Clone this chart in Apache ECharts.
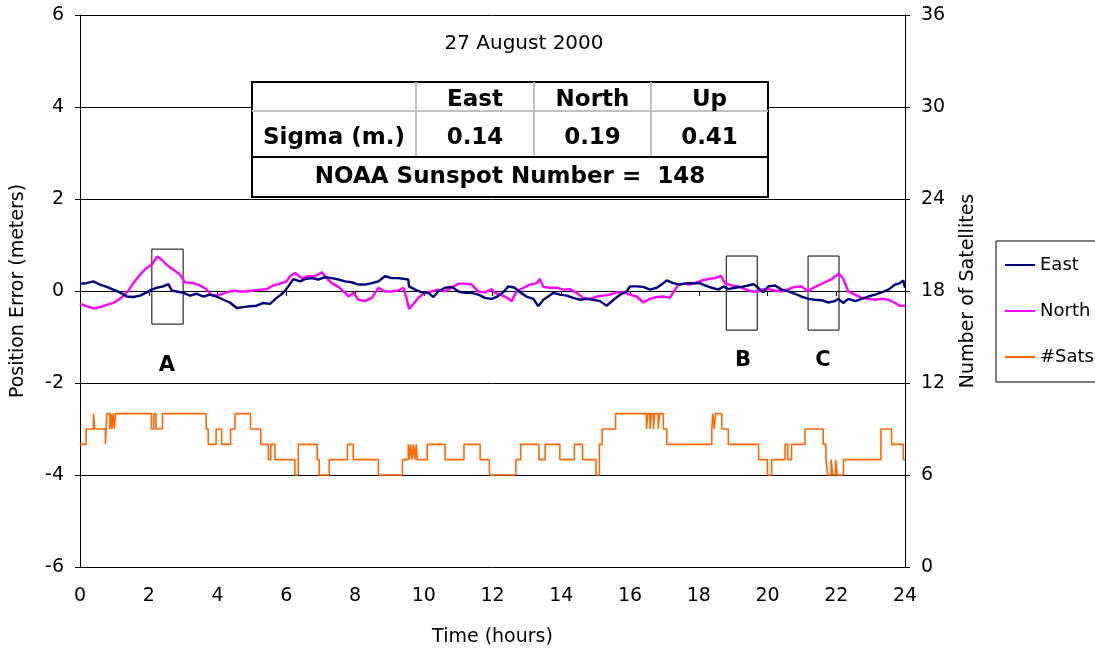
<!DOCTYPE html>
<html>
<head>
<meta charset="utf-8">
<script src="https://cdn.jsdelivr.net/npm/echarts@6/dist/echarts.min.js"></script>
<style>
  html, body { margin: 0; padding: 0; background: #fff; }
  #chart { width: 1095px; height: 655px; }
</style>
</head>
<body>
<div id="chart"></div>
<script>
// position error, [hour, metres]
var eastData = [
  [0, 0.16], [0.19, 0.17], [0.39, 0.21], [0.58, 0.14], [0.78, 0.09], [0.97, 0.03], [1.16, -0.03],
  [1.36, -0.12], [1.55, -0.13], [1.75, -0.10], [1.94, -0.03], [2.08, 0.03], [2.23, 0.07], [2.42, 0.10],
  [2.57, 0.15], [2.67, 0.01], [2.81, -0.01], [3.01, -0.04], [3.20, -0.10], [3.39, -0.06], [3.59, -0.12],
  [3.78, -0.08], [3.98, -0.12], [4.17, -0.19], [4.36, -0.25], [4.56, -0.37], [4.75, -0.35], [4.95, -0.33],
  [5.14, -0.32], [5.33, -0.26], [5.53, -0.28], [5.72, -0.15], [5.92, -0.04], [6.06, 0.10],
  [6.21, 0.26], [6.40, 0.21], [6.55, 0.26], [6.74, 0.28], [6.93, 0.25], [7.13, 0.30], [7.32, 0.28],
  [7.52, 0.25], [7.71, 0.21], [7.90, 0.19], [8.10, 0.14], [8.29, 0.14], [8.49, 0.17], [8.68, 0.21],
  [8.87, 0.32], [9.07, 0.28], [9.26, 0.28], [9.45, 0.26], [9.55, 0.25], [9.57, 0.10], [9.75, 0.03],
  [9.94, -0.03], [10.13, -0.04], [10.28, -0.13], [10.42, -0.01], [10.62, 0.07], [10.81, 0.09],
  [11.01, -0.01], [11.20, -0.04], [11.39, -0.04], [11.59, -0.08], [11.78, -0.15], [11.98, -0.17],
  [12.12, -0.13], [12.31, -0.03], [12.46, 0.10], [12.65, 0.07], [12.80, -0.03], [12.99, -0.12],
  [13.19, -0.17], [13.33, -0.33], [13.48, -0.19], [13.62, -0.12], [13.77, -0.04], [13.96, -0.08],
  [14.16, -0.10], [14.35, -0.15], [14.55, -0.19], [14.74, -0.17], [14.93, -0.19], [15.13, -0.22],
  [15.32, -0.32], [15.52, -0.19], [15.71, -0.08], [15.90, -0.01], [16.00, 0.10], [16.19, 0.10],
  [16.39, 0.09], [16.58, 0.03], [16.78, 0.07], [16.97, 0.17], [17.07, 0.23], [17.26, 0.17],
  [17.45, 0.14], [17.65, 0.17], [17.84, 0.17],
  [18.04, 0.17], [18.18, 0.12], [18.38, 0.07], [18.57, 0.03], [18.72, 0.10], [18.86, 0.04],
  [19.05, 0.07], [19.25, 0.09], [19.44, 0.12], [19.59, 0.15], [19.73, 0.07], [19.88, -0.03],
  [20.02, 0.10], [20.22, 0.12], [20.41, 0.03], [20.61, -0.01], [20.80, -0.06], [20.99, -0.12],
  [21.19, -0.17], [21.38, -0.19], [21.58, -0.20], [21.77, -0.25], [21.96, -0.22], [22.06, -0.17],
  [22.21, -0.26], [22.35, -0.17], [22.55, -0.22], [22.74, -0.17], [22.93, -0.12], [23.13, -0.08],
  [23.32, -0.03], [23.52, 0.03], [23.71, 0.14], [23.85, 0.17], [23.95, 0.23], [24.0, 0.07]
];
var northData = [
  [0, -0.28], [0.19, -0.33], [0.39, -0.38], [0.58, -0.35], [0.78, -0.30], [0.97, -0.26], [1.16, -0.17],
  [1.36, -0.04], [1.55, 0.17], [1.75, 0.36], [1.94, 0.50], [2.08, 0.57], [2.25, 0.75], [2.38, 0.68],
  [2.52, 0.57], [2.72, 0.46], [2.91, 0.36], [3.05, 0.19], [3.30, 0.17], [3.49, 0.12], [3.68, 0.04],
  [3.83, -0.10], [4.07, -0.08], [4.27, -0.03], [4.46, 0.01], [4.65, -0.01], [4.85, -0.01], [5.04, 0.01],
  [5.24, 0.03], [5.43, 0.04], [5.62, 0.12], [5.82, 0.16], [6.01, 0.21],
  [6.11, 0.32], [6.26, 0.39], [6.45, 0.28], [6.64, 0.32], [6.84, 0.32], [7.03, 0.41], [7.18, 0.28],
  [7.32, 0.17], [7.52, 0.09], [7.71, -0.04], [7.81, -0.12], [7.95, -0.04], [8.10, -0.19], [8.29, -0.22],
  [8.49, -0.15], [8.68, 0.07], [8.87, -0.01], [9.07, -0.01], [9.26, 0.01], [9.41, 0.07], [9.50, -0.15],
  [9.57, -0.39], [9.70, -0.28], [9.84, -0.15], [10.04, -0.04], [10.23, -0.01], [10.42, 0.03],
  [10.62, -0.01], [10.81, 0.07], [11.01, 0.16], [11.20, 0.16], [11.39, 0.14], [11.59, -0.01],
  [11.78, -0.03], [11.98, 0.04],
  [12.07, -0.04], [12.22, -0.08], [12.36, -0.12], [12.56, -0.22], [12.70, -0.01], [12.90, 0.07],
  [13.09, 0.14], [13.28, 0.17], [13.38, 0.26], [13.48, 0.09], [13.67, 0.07], [13.87, 0.07],
  [14.06, 0.03], [14.25, 0.04], [14.45, -0.04], [14.64, -0.15], [14.84, -0.17], [15.03, -0.12],
  [15.22, -0.10], [15.42, -0.08], [15.61, -0.03], [15.81, -0.03], [16.00, -0.08], [16.19, -0.12],
  [16.39, -0.25], [16.58, -0.17], [16.78, -0.13], [16.97, -0.12], [17.16, -0.15], [17.31, 0.03],
  [17.41, 0.14], [17.55, 0.16], [17.74, 0.14],
  [17.89, 0.17], [18.09, 0.23], [18.28, 0.26], [18.47, 0.28], [18.65, 0.33], [18.76, 0.17],
  [18.96, 0.12], [19.15, 0.10], [19.35, 0.04], [19.54, -0.01], [19.73, -0.01], [19.88, 0.04],
  [20.02, 0.04], [20.22, 0.01], [20.41, -0.01], [20.61, 0.04], [20.80, 0.09], [20.99, 0.10],
  [21.19, -0.01], [21.33, 0.07], [21.48, 0.12], [21.67, 0.19], [21.87, 0.26], [22.08, 0.38],
  [22.21, 0.26], [22.35, -0.01], [22.55, -0.08], [22.74, -0.15], [22.93, -0.17], [23.13, -0.19],
  [23.32, -0.17], [23.52, -0.19], [23.71, -0.26], [23.85, -0.32], [24.0, -0.32]
];
// number of satellites, [hour the count changes, new count]
var satsData = [
  [0, 8], [0.175, 9], [0.39, 10], [0.43, 9], [0.74, 8], [0.78, 10], [0.87, 9], [0.90, 10], [0.93, 9],
  [0.96, 10], [1.00, 9], [1.03, 10], [2.08, 9], [2.15, 10], [2.21, 9], [2.40, 10], [3.67, 9], [3.73, 8],
  [3.96, 9], [4.12, 8], [4.38, 9], [4.51, 10], [4.96, 9], [5.26, 8], [5.48, 7], [5.55, 8], [5.67, 7],
  [6.25, 6], [6.35, 8], [6.90, 7], [6.96, 6], [7.25, 7], [7.78, 8], [7.95, 7], [8.68, 6], [9.38, 7],
  [9.55, 8], [9.58, 7], [9.62, 8], [9.66, 7], [9.70, 8], [9.75, 7], [9.78, 8], [9.81, 7], [10.10, 8],
  [10.62, 7], [11.17, 8], [11.64, 7], [11.91, 6], [12.68, 7], [12.82, 8], [13.35, 7], [13.53, 8],
  [13.96, 7], [14.38, 8], [14.62, 7], [15.01, 6], [15.11, 8], [15.19, 9], [15.58, 10], [16.48, 9],
  [16.52, 10], [16.58, 9], [16.62, 10], [16.68, 9], [16.72, 10], [16.82, 9], [16.86, 10], [16.97, 9],
  [17.07, 8], [18.38, 9], [18.41, 10], [18.45, 9], [18.49, 10], [18.67, 9], [18.86, 8], [19.74, 7],
  [20.00, 6], [20.12, 7], [20.51, 8], [20.59, 7], [20.70, 8], [21.09, 9], [21.62, 8], [21.70, 7],
  [21.75, 6], [21.85, 7], [21.90, 6], [21.98, 7], [22.03, 6], [22.21, 7], [23.30, 9], [23.61, 8],
  [23.95, 7], [24.0, 7]
];
// highlighted windows: [from hour, to hour, top m, bottom m]
var boxes = [[2.09, 3.0, 0.91, -0.72], [18.8, 19.7, 0.76, -0.85], [21.18, 22.08, 0.76, -0.85]];
var boxLabels = [["A", 2.53, -1.62], ["B", 19.29, -1.52], ["C", 21.61, -1.52]];

var titleText = "27 August 2000";
var sigmaNames = ["East", "North", "Up"];
var sigmaValues = ["0.14", "0.19", "0.41"];
var sunspotNumber = 148;

var font = "DejaVu Sans";
var chart = echarts.init(document.getElementById("chart"));

// the sigma table drawn on top of the plot
var tL = 252, tR = 768, tTop = 82, tRow1 = 111, tRow2 = 157, tBot = 197;
var colX = [tL, 416, 534, 651, tR];
var tableGraphics = [
  { type: "rect", shape: { x: tL, y: tTop, width: tR - tL, height: tBot - tTop },
    style: { fill: "#fff", stroke: "#000", lineWidth: 2 }, z: 100 },
  { type: "line", shape: { x1: tL, y1: tRow1, x2: tR, y2: tRow1 }, style: { stroke: "#c0c0c0", lineWidth: 2 }, z: 101 },
  { type: "line", shape: { x1: tL, y1: tRow2, x2: tR, y2: tRow2 }, style: { stroke: "#000", lineWidth: 2 }, z: 102 }
];
for (var i = 1; i < 4; i++) {
  tableGraphics.push({ type: "line", shape: { x1: colX[i], y1: tTop, x2: colX[i], y2: tRow2 },
    style: { stroke: "#c0c0c0", lineWidth: 2 }, z: 101 });
}
var cellFont = "bold 23px '" + font + "'";
function cellText(txt, cx, cy) {
  return { type: "text", x: cx, y: cy, z: 103,
    style: { text: txt, font: cellFont, fill: "#000", align: "center", verticalAlign: "middle" } };
}
tableGraphics.push(cellText("Sigma (m.)", (colX[0] + colX[1]) / 2, 138));
for (var j = 0; j < 3; j++) {
  var cx = (colX[j + 1] + colX[j + 2]) / 2;
  tableGraphics.push(cellText(sigmaNames[j], cx, 100));
  tableGraphics.push(cellText(sigmaValues[j], cx, 138));
}
tableGraphics.push(cellText("NOAA Sunspot Number =  " + sunspotNumber, (tL + tR) / 2, 177));
tableGraphics.push({ type: "text", x: 524, y: 44, z: 103,
  style: { text: titleText, font: "20px '" + font + "'", fill: "#000", align: "center", verticalAlign: "middle" } });

var axisText = { color: "#000", fontFamily: font, fontSize: 19 };

var option = {
  backgroundColor: "#fff",
  animation: false,
  textStyle: { fontFamily: font },
  grid: { left: 80, right: 190, top: 15, bottom: 88 },
  legend: {
    orient: "vertical",
    left: 996,
    top: 241,
    padding: [14, 40, 15, 9],
    itemGap: 26,
    itemWidth: 30,
    itemHeight: 2,
    icon: "rect",
    borderColor: "#000",
    borderWidth: 1,
    textStyle: { color: "#000", fontFamily: font, fontSize: 18, lineHeight: 20 },
    data: ["East", "North", "#Sats"]
  },
  xAxis: {
    type: "value",
    min: 0,
    max: 24,
    interval: 2,
    name: "Time (hours)",
    nameLocation: "middle",
    nameGap: 61,
    nameTextStyle: axisText,
    axisLine: { lineStyle: { color: "#000", width: 1 } },
    axisTick: { inside: false, length: 5, lineStyle: { color: "#000" } },
    axisLabel: Object.assign({ margin: 20 }, axisText),
    splitLine: { show: false }
  },
  yAxis: [
    {
      type: "value",
      min: -6,
      max: 6,
      interval: 2,
      name: "Position Error (meters)",
      nameLocation: "middle",
      nameGap: 52,
      nameTextStyle: axisText,
      axisLine: { show: true, lineStyle: { color: "#000", width: 1 } },
      axisTick: { show: true, length: 5, lineStyle: { color: "#000" } },
      axisLabel: Object.assign({ margin: 16 }, axisText),
      splitLine: { show: true, lineStyle: { color: "#000", width: 1 } }
    },
    {
      type: "value",
      min: 0,
      max: 36,
      interval: 6,
      name: "Number of Satellites",
      nameLocation: "middle",
      nameGap: 54,
      nameTextStyle: axisText,
      axisLine: { show: true, lineStyle: { color: "#000", width: 1 } },
      axisTick: { show: true, length: 5, lineStyle: { color: "#000" } },
      axisLabel: Object.assign({ margin: 16 }, axisText),
      splitLine: { show: false }
    }
  ],
  series: [
    {
      name: "East",
      type: "line",
      data: eastData,
      showSymbol: false,
      symbol: "none",
      color: "#000080",
      lineStyle: { color: "#000080", width: 2.4 },
      z: 3,
      markArea: {
        silent: true,
        itemStyle: { color: "rgba(0,0,0,0)", borderColor: "#000", borderWidth: 1 },
        data: boxes.map(function (b) {
          return [{ xAxis: b[0], yAxis: b[2] }, { xAxis: b[1], yAxis: b[3] }];
        })
      },
      markPoint: {
        silent: true,
        symbol: "rect",
        symbolSize: 1,
        itemStyle: { color: "rgba(0,0,0,0)" },
        label: { show: true, position: "inside", color: "#000", fontFamily: font, fontWeight: "bold", fontSize: 21,
          formatter: function (p) { return p.name; } },
        data: boxLabels.map(function (l) { return { name: l[0], coord: [l[1], l[2]] }; })
      }
    },
    {
      name: "North",
      type: "line",
      data: northData,
      showSymbol: false,
      symbol: "none",
      color: "#ff00ff",
      lineStyle: { color: "#ff00ff", width: 2.4 },
      z: 2
    },
    {
      name: "#Sats",
      type: "line",
      yAxisIndex: 1,
      step: "end",
      data: satsData,
      showSymbol: false,
      symbol: "none",
      color: "#ff6600",
      lineStyle: { color: "#ff6600", width: 1.6 },
      z: 2
    }
  ],
  graphic: tableGraphics
};
chart.setOption(option);
</script>
</body>
</html>
